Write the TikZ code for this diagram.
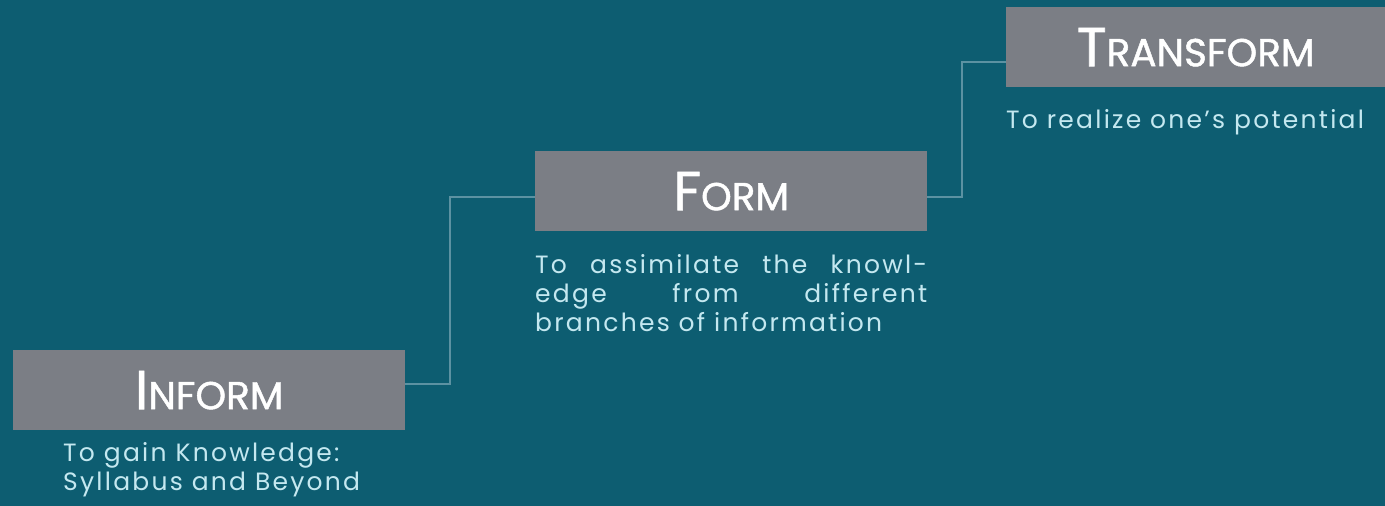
\documentclass[tikz,border=0pt]{standalone}
\usepackage{fontspec}
\setmainfont{Poppins}
\newfontfamily\descfont[LetterSpace=9]{Poppins}
\newfontfamily\titlefont[FakeBold=1.2]{Poppins}
\usetikzlibrary{calc}
\definecolor{bgteal}{RGB}{13,93,113}
\definecolor{boxgray}{RGB}{123,126,133}
\definecolor{desccyan}{RGB}{196,232,240}
\definecolor{linkteal}{RGB}{92,146,162}
\tikzstyle{stepbox}=[rectangle, fill=boxgray, inner sep=0pt, text=white, minimum height=80pt, anchor=north west, font=\titlefont]
\tikzstyle{desc}=[inner sep=0pt, anchor=base west, text=desccyan, font=\descfont\fontsize{25}{29}\selectfont, align=left]
\tikzstyle{link}=[draw=linkteal, line width=2pt]
\newcommand{\steptitle}[2]{{\fontsize{55}{55}\selectfont #1}{\fontsize{39}{39}\selectfont #2}}

\begin{document}
\begin{tikzpicture}[x=1pt, y=-1pt]
				%The background
				\useasboundingbox[fill=bgteal] (0,0) rectangle (1385,506);
				
				%The steps
				\draw (13,350) node[stepbox, minimum width=392pt] (inform) {\steptitle{I}{NFORM}};
				\draw (535,151) node[stepbox, minimum width=392pt] (form) {\steptitle{F}{ORM}};
				\draw (1006,7) node[stepbox, minimum width=379pt] (transform) {\steptitle{T}{RANSFORM}};
				
				%The texts under the steps (anchored on their last line)
				\draw (63,490) node[desc] (informtxt) {To gain Knowledge:\\Syllabus and Beyond};
				\draw (535,331) node[desc] (formtxt) {\makebox[392pt][s]{To assimilate the knowl-}\\
					\makebox[392pt][s]{edge from different}\\branches of information};
				\draw (1006,128) node[desc] (transformtxt) {To realize one’s potential};
				
				%The links
				\draw[link] ([yshift=6pt]inform.east) -- ++(45,0) |- ([yshift=-6pt]form.west);
				\draw[link] ([yshift=-6pt]form.east) -- ++(35,0) |- ([yshift=-14.5pt]transform.west);
			\end{tikzpicture}
\end{document}
